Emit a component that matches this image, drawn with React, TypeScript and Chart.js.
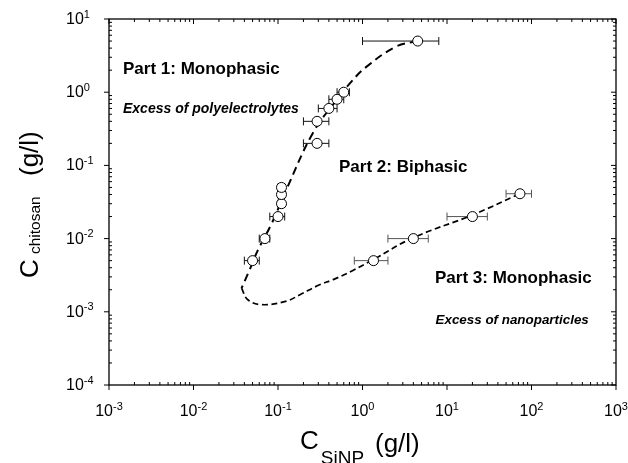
import React, { useEffect, useRef } from 'react';
import { Chart, registerables } from 'chart.js';

Chart.register(...registerables);

// Part 1 / 2 boundary (excess of polyelectrolytes side) – measured points
const upperX = [0.05, 0.07, 0.1, 0.11, 0.11, 0.11, 0.29, 0.29, 0.4, 0.5, 0.6, 4.5];
const upperY = [0.005, 0.01, 0.02, 0.03, 0.04, 0.05, 0.2, 0.4, 0.6, 0.8, 1.0, 5.0];
const upperXLow = [0.04, 0.06, 0.08, 0.1, 0.1, 0.1, 0.2, 0.2, 0.3, 0.4, 0.5, 1.0];
const upperXHigh = [0.06, 0.08, 0.12, 0.12, 0.12, 0.12, 0.4, 0.4, 0.5, 0.6, 0.7, 8.0];

// Part 2 / 3 boundary (excess of nanoparticles side) – measured points
const lowerX = [1.35, 4, 20, 73];
const lowerY = [0.005, 0.01, 0.02, 0.041];
const lowerXLow = [0.8, 2, 10, 50];
const lowerXHigh = [2, 6, 30, 100];

// Dashed guide curve
const curveUpperX = [4.5, 2.5, 1.1, 0.7, 0.5, 0.26, 0.126, 0.084, 0.058, 0.045, 0.037];
const curveUpperY = [5.0, 4.2, 2.2, 1.3, 0.8, 0.28, 0.047, 0.016, 0.007, 0.0035, 0.0021];
const curveLowerX = [0.037, 0.044, 0.064, 0.126, 0.18, 0.31, 0.45, 0.78, 1.35, 4, 20, 73];
const curveLowerY = [0.0021, 0.00146, 0.00125, 0.0014, 0.0017, 0.00234, 0.00275, 0.0037, 0.0052, 0.0103, 0.021, 0.041];

// Axis decades (exponents of ten)
const xTickExps = [-3, -2, -1, 0, 1, 2, 3];
const yTickExps = [-4, -3, -2, -1, 0, 1];

const annotations = [
  { text: 'Part 1: Monophasic', x: 1e-3 * Math.pow(10, 0.165), y: 10 * Math.pow(10, -0.75), style: 'bold', size: 17 },
];

const FONT = '"Liberation Sans", Arial, Helvetica, sans-serif';

const toPts = (xs: number[], ys: number[]) => xs.map((x, i) => ({ x, y: ys[i] }));

const decorPlugin = {
  id: 'decor',
  beforeDatasetsDraw(chart: any) {
    const ctx = chart.ctx;
    const xs = chart.scales.x;
    const ys = chart.scales.y;
    const drawBars = (xv: number[], yv: number[], lo: number[], hi: number[], color: string) => {
      ctx.save();
      ctx.strokeStyle = color;
      ctx.lineWidth = 1;
      for (let i = 0; i < xv.length; i++) {
        const py = ys.getPixelForValue(yv[i]);
        const x1 = xs.getPixelForValue(lo[i]);
        const x2 = xs.getPixelForValue(hi[i]);
        ctx.beginPath();
        ctx.moveTo(x1, py);
        ctx.lineTo(x2, py);
        ctx.moveTo(x1, py - 4);
        ctx.lineTo(x1, py + 4);
        ctx.moveTo(x2, py - 4);
        ctx.lineTo(x2, py + 4);
        ctx.stroke();
      }
      ctx.restore();
    };
    drawBars(upperX, upperY, upperXLow, upperXHigh, '#111');
    drawBars(lowerX, lowerY, lowerXLow, lowerXHigh, '#555');
  },
  afterDraw(chart: any) {
    const ctx = chart.ctx;
    const { left, right, top, bottom } = chart.chartArea;
    const xs = chart.scales.x;
    const ys = chart.scales.y;
    ctx.save();
    ctx.strokeStyle = '#000';
    ctx.fillStyle = '#000';
    ctx.lineWidth = 1.3;
    ctx.strokeRect(left, top, right - left, bottom - top);

    ctx.lineWidth = 1;
    ctx.beginPath();
    // x ticks
    for (let e = xTickExps[0]; e <= xTickExps[xTickExps.length - 1]; e++) {
      const px = xs.getPixelForValue(Math.pow(10, e));
      ctx.moveTo(px, bottom);
      ctx.lineTo(px, bottom + 5);
      ctx.moveTo(px, top);
      ctx.lineTo(px, top + 5);
      if (e < xTickExps[xTickExps.length - 1]) {
        for (let m = 2; m <= 9; m++) {
          const mx = xs.getPixelForValue(m * Math.pow(10, e));
          ctx.moveTo(mx, bottom);
          ctx.lineTo(mx, bottom - 3);
          ctx.moveTo(mx, top);
          ctx.lineTo(mx, top + 3);
        }
      }
    }
    // y ticks
    for (let e = yTickExps[0]; e <= yTickExps[yTickExps.length - 1]; e++) {
      const py = ys.getPixelForValue(Math.pow(10, e));
      ctx.moveTo(left - 5, py);
      ctx.lineTo(left, py);
      ctx.moveTo(right - 5, py);
      ctx.lineTo(right, py);
      if (e < yTickExps[yTickExps.length - 1]) {
        for (let m = 2; m <= 9; m++) {
          const my = ys.getPixelForValue(m * Math.pow(10, e));
          ctx.moveTo(left, my);
          ctx.lineTo(left + 3, my);
          ctx.moveTo(right, my);
          ctx.lineTo(right - 3, my);
        }
      }
    }
    ctx.stroke();

    // tick labels
    ctx.textBaseline = 'alphabetic';
    ctx.textAlign = 'left';
    const baseFont = `16px ${FONT}`;
    const expFont = `11px ${FONT}`;
    xTickExps.forEach((e) => {
      const px = xs.getPixelForValue(Math.pow(10, e));
      const exp = String(e);
      ctx.font = baseFont;
      const w10 = ctx.measureText('10').width;
      ctx.font = expFont;
      const we = ctx.measureText(exp).width;
      const start = px - (w10 + we) / 2;
      ctx.font = baseFont;
      ctx.fillText('10', start, 416);
      ctx.font = expFont;
      ctx.fillText(exp, start + w10, 409.5);
    });
    yTickExps.forEach((e) => {
      const py = ys.getPixelForValue(Math.pow(10, e));
      const exp = String(e);
      ctx.font = baseFont;
      const w10 = ctx.measureText('10').width;
      ctx.fillText('10', 66, py + 5);
      ctx.font = expFont;
      ctx.fillText(exp, 66 + w10, py - 1.5);
    });

    // x axis title
    ctx.font = `26px ${FONT}`;
    const xt0 = 300;
    ctx.fillText('C', xt0, 449);
    const wC = ctx.measureText('C').width;
    ctx.font = `19px ${FONT}`;
    ctx.fillText('SiNP', xt0 + wC + 2, 464);
    ctx.font = `26px ${FONT}`;
    ctx.fillText('(g/l)', 375, 452);

    // y axis title
    ctx.save();
    ctx.translate(38, 278);
    ctx.rotate(-Math.PI / 2);
    ctx.font = `26px ${FONT}`;
    ctx.fillText('C', 0, 0);
    ctx.font = `15.5px ${FONT}`;
    ctx.fillText('chitosan', 24, 1.5);
    ctx.font = `26px ${FONT}`;
    ctx.fillText('(g/l)', 102, 0);
    ctx.restore();

    // annotations
    ctx.font = `bold 17px ${FONT}`;
    ctx.fillText('Part 1: Monophasic', 123, 74);
    ctx.fillText('Part 2: Biphasic', 339, 172);
    ctx.fillText('Part 3: Monophasic', 435, 283);
    ctx.font = `italic bold 14px ${FONT}`;
    ctx.fillText('Excess of polyelectrolytes', 123, 113);
    ctx.font = `italic bold 13.4px ${FONT}`;
    ctx.fillText('Excess of nanoparticles', 435.5, 324);
    ctx.restore();
  },
};

export default function App() {
  const ref = useRef<HTMLCanvasElement>(null);
  useEffect(() => {
    const pointStyle = {
      showLine: false,
      pointRadius: 5,
      pointHoverRadius: 5,
      pointBackgroundColor: '#ffffff',
      pointBorderColor: '#000000',
      pointBorderWidth: 1,
      backgroundColor: '#ffffff',
      borderColor: '#000000',
    };
    const chart = new Chart(ref.current as HTMLCanvasElement, {
      type: 'scatter',
      data: {
        datasets: [
          { label: 'upper', data: toPts(upperX, upperY), order: 0, ...pointStyle },
          { label: 'lower', data: toPts(lowerX, lowerY), order: 0, ...pointStyle },
          {
            label: 'curveUpper',
            data: toPts(curveUpperX, curveUpperY),
            showLine: true,
            pointRadius: 0,
            borderColor: '#000',
            borderWidth: 2,
            borderDash: [8, 5],
            tension: 0.4,
            fill: false,
            order: 2,
          },
          {
            label: 'curveLower',
            data: toPts(curveLowerX, curveLowerY),
            showLine: true,
            pointRadius: 0,
            borderColor: '#000',
            borderWidth: 1.7,
            borderDash: [6, 3.5],
            tension: 0.4,
            fill: false,
            order: 2,
          },
        ],
      },
      options: {
        responsive: false,
        animation: false,
        layout: { padding: { left: 109, right: 12, top: 19, bottom: 78 } },
        scales: {
          x: { type: 'logarithmic', min: 1e-3, max: 1e3, display: false },
          y: { type: 'logarithmic', min: 1e-4, max: 10, display: false },
        },
        plugins: {
          legend: { display: false },
          tooltip: { enabled: false },
        },
      },
      plugins: [decorPlugin],
    } as any);
    return () => chart.destroy();
  }, []);
  return (
    <div style={{ position: 'absolute', left: 0, top: 0, width: 628, height: 463, background: '#fff' }}>
      <canvas ref={ref} width={628} height={463} style={{ display: 'block' }} />
    </div>
  );
}
